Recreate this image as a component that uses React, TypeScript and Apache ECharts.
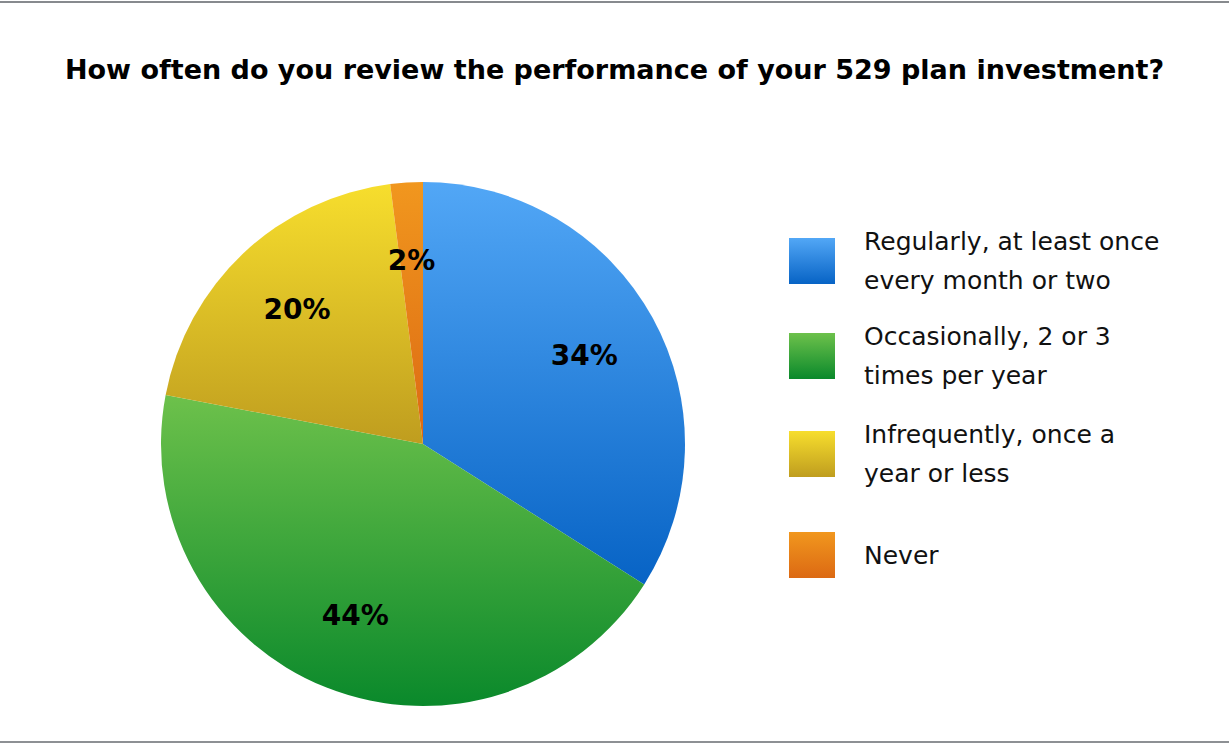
import React, { useEffect, useRef } from "react";
import * as echarts from "echarts";

const titleText = "How often do you review the performance of your 529 plan investment?";
const categories = [
  "Regularly, at least once every month or two",
  "Occasionally, 2 or 3 times per year",
  "Infrequently, once a year or less",
  "Never",
];
const legendLabels = [
  "Regularly, at least once\nevery month or two",
  "Occasionally, 2 or 3\ntimes per year",
  "Infrequently, once a\nyear or less",
  "Never",
];
const values = [34, 44, 20, 2];
const topColors = ["#52a7f6", "#6dc14b", "#f7de2d", "#f1971e"];
const bottomColors = ["#0763c5", "#0a892b", "#bf9d1f", "#dc6913"];

const FONT = "'DejaVu Sans', sans-serif";

export default function App() {
  const ref = useRef<HTMLDivElement>(null);
  useEffect(() => {
    if (!ref.current) return;
    const chart = echarts.init(ref.current, undefined, { renderer: "svg" });
    const grad = (i: number) =>
      new echarts.graphic.LinearGradient(0, 0, 0, 1, [
        { offset: 0, color: topColors[i] },
        { offset: 1, color: bottomColors[i] },
      ]);
    const legendTops = [222, 317, 415, 532];
    const nameToLabel: Record<string, string> = {};
    categories.forEach((c, i) => (nameToLabel[c] = legendLabels[i]));
    chart.setOption({
      animation: false,
      backgroundColor: "#ffffff",
      title: {
        text: titleText,
        left: "center",
        top: 53,
        padding: 0,
        textStyle: { fontFamily: FONT, fontWeight: "bold", fontSize: 27, color: "#000", lineHeight: 32 },
      },
      legend: categories.map((c, i) => ({
        data: [c],
        orient: "vertical",
        left: 789,
        top: legendTops[i],
        padding: 0,
        icon: "rect",
        itemWidth: 46,
        itemHeight: 46,
        selectedMode: false,
        formatter: (n: string) => nameToLabel[n],
        textStyle: {
          fontFamily: FONT,
          fontSize: 25,
          lineHeight: 39,
          color: "#111",
          padding: [0, 0, 0, 24],
        },
      })),
      graphic: [
        { type: "rect", shape: { x: 0, y: 1, width: 1229, height: 2 }, style: { fill: "#878a8e" }, silent: true },
        { type: "rect", shape: { x: 0, y: 741, width: 1229, height: 2 }, style: { fill: "#8d9094" }, silent: true },
      ],
      series: [
        {
          type: "pie",
          center: [423, 444],
          radius: [0, 262],
          startAngle: 90,
          clockwise: true,
          label: { show: false },
          labelLine: { show: false },
          emphasis: { disabled: true },
          data: categories.map((c, i) => ({ name: c, value: values[i], itemStyle: { color: grad(i) } })),
        },
        {
          type: "pie",
          center: [423, 444],
          radius: [100, 262],
          startAngle: 90,
          clockwise: true,
          silent: true,
          emphasis: { disabled: true },
          itemStyle: { color: "rgba(0,0,0,0)" },
          label: {
            show: true,
            position: "inside",
            formatter: (p: any) => p.value + "%",
            fontFamily: FONT,
            fontWeight: "bold",
            fontSize: 28,
            color: "#000",
          },
          labelLine: { show: false },
          data: categories.map((c, i) => ({ name: c, value: values[i] })),
        },
      ],
    });
    return () => chart.dispose();
  }, []);
  return (
    <div
      ref={ref}
      style={{ position: "fixed", left: 0, top: 0, width: 1229, height: 744 }}
    />
  );
}
